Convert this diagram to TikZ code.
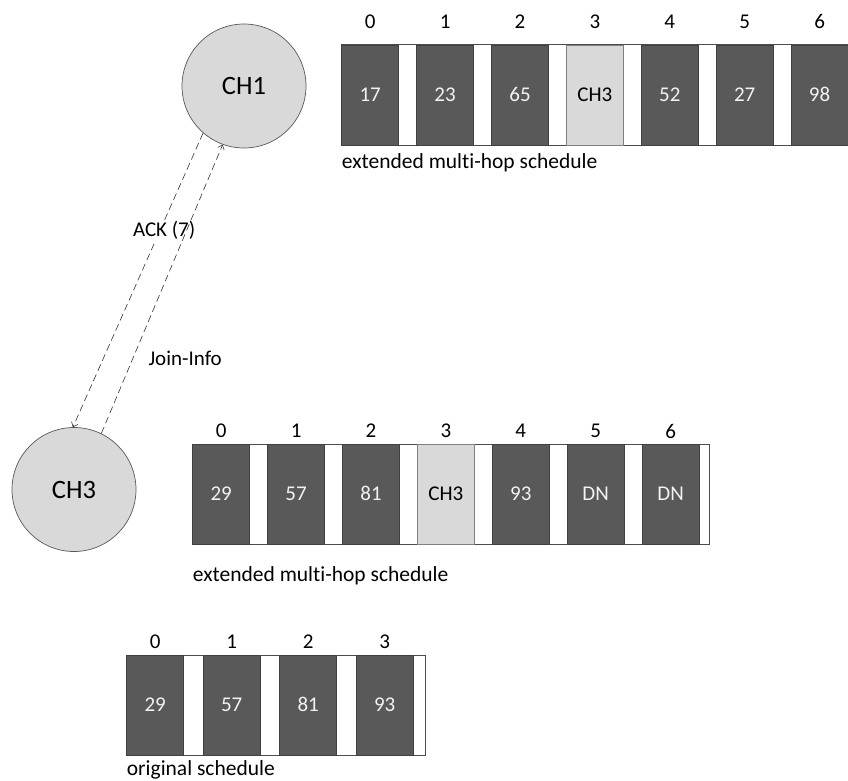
\documentclass[tikz,border=0pt]{standalone}
\usepackage{fontspec}
\setmainfont{Carlito}[Numbers=Lining, Ligatures=NoCommon]
\usetikzlibrary{arrows.meta}
\begin{document}
\begin{tikzpicture}[x=1pt, y=-1pt,
    head/.style={circle, draw=black!65, fill=black!15, line width=0.7pt,
        minimum size=124pt, inner sep=0pt, font=\fontsize{26.5}{30}\selectfont},
    strip/.style={draw=black!70, fill=white, line width=1pt},
    slot/.style={rectangle, draw=black!75, line width=0.6pt, minimum width=57pt,
        minimum height=100pt, inner sep=0pt, text height=13.3pt, text depth=0pt,
        font=\fontsize{21}{24}\selectfont},
    slotdark/.style={fill=black!65, text=black!5},
    slotlight/.style={fill=black!15, text=black, draw=black!50},
    idx/.style={font=\fontsize{21}{24}\selectfont},
    caption/.style={anchor=west, inner sep=0pt, font=\fontsize{21.5}{24}\selectfont},
    msg/.style={draw=black!80, line width=0.6pt, dash pattern=on 7pt off 4pt,
        -{Straight Barb[length=4pt, width=7pt]}}]
    \useasboundingbox (0,0) rectangle (848,781);

    % Cluster heads
    \node[head] (ch1) at (244, 86) {CH1};
    \node[head] (ch3) at (74, 489.5) {CH3};

    % Messages between the cluster heads
    \draw[msg] (ch1.229) -- node[pos=0.33, xshift=4pt, fill=white, inner sep=1pt, idx] (ack) {ACK (7)} (ch3.91);
    \draw[msg] (ch3.64) -- (ch1.250);
    \node[idx, anchor=west] (join) at (145, 358) {Join-Info};

    % Extended schedule of CH1
    \draw[strip] (341.7, 45) rectangle (856, 145);
    \foreach \s/\v [count=\i from 0] in {slotdark/17, slotdark/23, slotdark/65, slotlight/CH3,
        slotdark/52, slotdark/27, slotdark/98} {
        \node[slot, \s] (t\i) at (370.2+74.9*\i, 95) {\v};
        \node[idx] (tn\i) at (370.2+74.9*\i, 21.7) {\i};
    }
    \node[caption] (tcap) at (341.7, 163) {extended multi-hop schedule};

    % Extended schedule of CH3
    \draw[strip] (192.7, 444.3) rectangle (709.3, 544);
    \foreach \s/\v [count=\i from 0] in {slotdark/29, slotdark/57, slotdark/81, slotlight/CH3,
        slotdark/93, slotdark/DN, slotdark/DN} {
        \node[slot, \s] (m\i) at (221.2+74.9*\i, 494) {\v};
        \node[idx] (mn\i) at (221.2+74.9*\i, 431) {\i};
    }
    \node[caption] (mcap) at (192.7, 576) {extended multi-hop schedule};

    % Original schedule of CH3
    \draw[strip] (126.7, 655) rectangle (425, 755);
    \foreach \v [count=\i from 0] in {29, 57, 81, 93} {
        \node[slot, slotdark] (o\i) at (155.2+76.5*\i, 705) {\v};
        \node[idx] (on\i) at (155.2+76.5*\i, 641.7) {\i};
    }
    \node[caption] (ocap) at (126.7, 770) {original schedule};
\end{tikzpicture}
\end{document}
